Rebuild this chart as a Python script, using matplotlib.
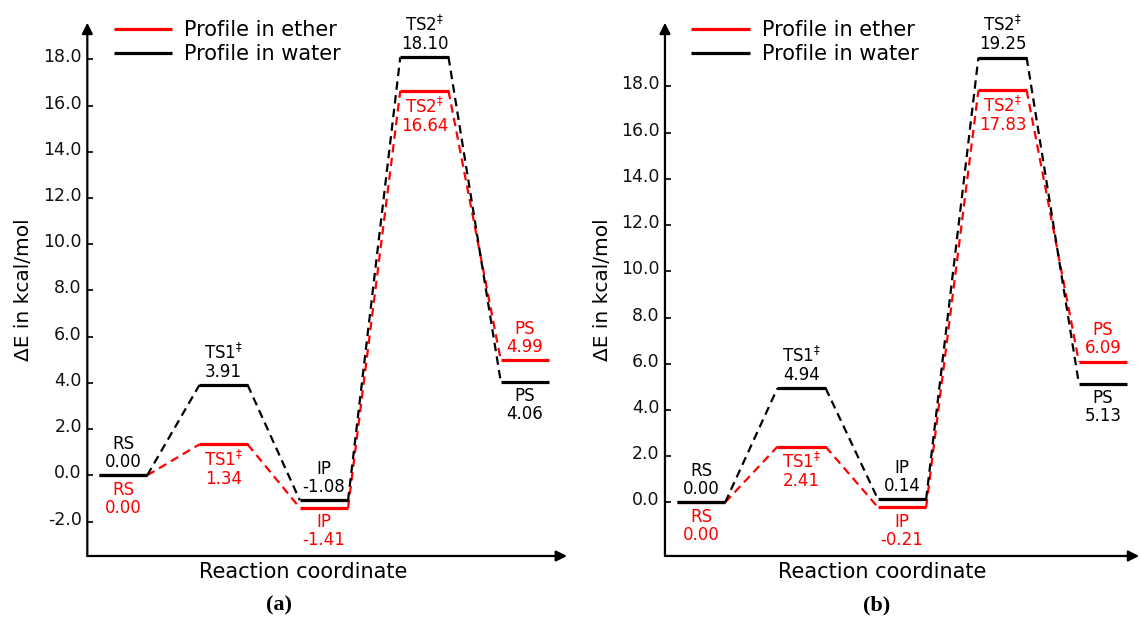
import matplotlib
matplotlib.use("Agg")
import matplotlib.pyplot as plt
import matplotlib.transforms as mtransforms
from matplotlib.ticker import FormatStrFormatter

# states along the reaction coordinate
states = ["RS", r"TS1$^{\ddag}$", "IP", r"TS2$^{\ddag}$", "PS"]
xpos = [1, 2, 3, 4, 5]

# panel (a)
ether_a = [0.00, 1.34, -1.41, 16.64, 4.99]
water_a = [0.00, 3.91, -1.08, 18.10, 4.06]
# panel (b)
ether_b = [0.00, 2.41, -0.21, 17.83, 6.09]
water_b = [0.00, 4.94, 0.14, 19.25, 5.13]

yticks_a = [-2, 0, 2, 4, 6, 8, 10, 12, 14, 16, 18]
yticks_b = [0, 2, 4, 6, 8, 10, 12, 14, 16, 18]

RED = "#ff0000"
HW = 0.24  # half width of a level

fig = plt.figure(figsize=(11.4, 6.17), dpi=100)


def draw_panel(ax, ether, water, yticks, xlim, ylim):
    for vals, col, lab, above in [(ether, RED, "Profile in ether", False),
                                  (water, "k", "Profile in water", True)]:
        for i, (x, v) in enumerate(zip(xpos, vals)):
            ax.plot([x - HW, x + HW], [v, v], color=col, lw=2.3,
                    solid_capstyle="butt", label=lab if i == 0 else None,
                    zorder=3)
            if i < len(vals) - 1:
                ax.plot([x + HW, xpos[i + 1] - HW], [v, vals[i + 1]],
                        color=col, lw=1.6, dashes=[3.8, 2.4], zorder=2)
            # red labels below, black above (except PS, swapped)
            up = above if i < 4 else not above
            txt = f"{states[i]}\n{v:.2f}"
            ax.annotate(txt, (x, v), xytext=(0, 3 if up else -4),
                        textcoords="offset points", ha="center",
                        va="bottom" if up else "top", color=col,
                        fontsize=12, linespacing=1.0, zorder=4,
                        annotation_clip=False)

    ax.set_xlim(*xlim)
    ax.set_ylim(*ylim)
    for s in ax.spines.values():
        s.set_visible(False)
    ax.annotate("", xy=(0, 1), xytext=(0, 0), xycoords="axes fraction",
                arrowprops=dict(arrowstyle="-|>", lw=1.6, color="k",
                                mutation_scale=16, shrinkA=0, shrinkB=0))
    ax.annotate("", xy=(1, 0), xytext=(0, 0), xycoords="axes fraction",
                arrowprops=dict(arrowstyle="-|>", lw=1.6, color="k",
                                mutation_scale=16, shrinkA=0, shrinkB=0))
    ax.set_xticks([])
    ax.set_yticks(yticks)
    ax.yaxis.set_major_formatter(FormatStrFormatter("%.1f"))
    ax.tick_params(axis="y", direction="in", length=4, width=1.3,
                   pad=4, labelsize=12.5, colors="#111111")
    off = mtransforms.ScaledTranslation(0, 0.04, fig.dpi_scale_trans)
    for lbl in ax.get_yticklabels():
        lbl.set_transform(lbl.get_transform() + off)
    ax.patch.set_visible(False)
    ax.legend(loc="upper left", bbox_to_anchor=(0.0557, 1.005), frameon=False,
              fontsize=15, handlelength=2.8, handletextpad=0.58,
              labelspacing=0.2, borderpad=0, borderaxespad=0)


ax1 = fig.add_axes([0.0766, 0.0989, 0.4208, 0.8643])
draw_panel(ax1, ether_a, water_a, yticks_a, (0.644, 5.42), (-3.49, 19.59))
ax2 = fig.add_axes([0.5833, 0.0989, 0.4160, 0.8643])
draw_panel(ax2, ether_b, water_b, yticks_b, (0.641, 5.36), (-2.32, 20.76))

for cx, lx in [(303, 24), (881.7, 602)]:
    fig.text(cx / 1140, 1 - 578 / 617, "Reaction coordinate", ha="center",
             va="baseline", fontsize=15)
    fig.text(lx / 1140, 1 - 290 / 617, "ΔE in kcal/mol", ha="center",
             va="center", rotation=90, fontsize=14.5)
for cx, tag in [(279, "(a)"), (877, "(b)")]:
    fig.text(cx / 1140, 1 - 605 / 617, tag, ha="center", va="center",
             fontsize=16, fontweight="bold", family="Liberation Serif")

fig.savefig("out.png", dpi=100)
